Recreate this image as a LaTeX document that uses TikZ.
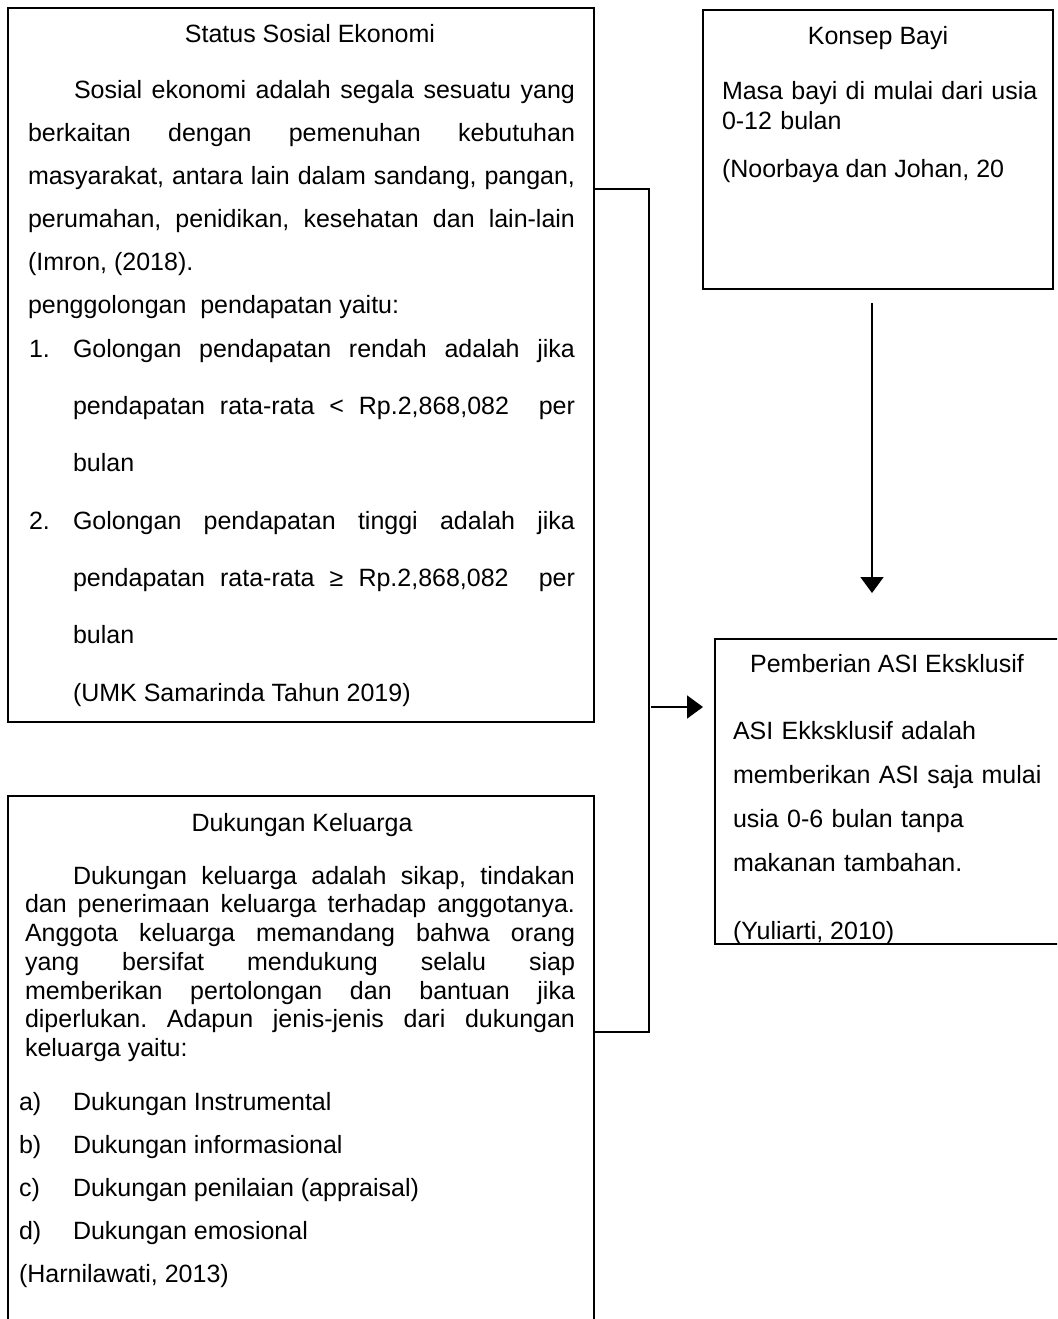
\documentclass[tikz,border=0pt]{standalone}
\usepackage{fontspec}
\setmainfont{Liberation Sans}
\usetikzlibrary{arrows.meta}
\newcommand\dgfont[1]{\fontsize{25}{#1}\selectfont\frenchspacing\hyphenpenalty10000 \exhyphenpenalty10000 \tolerance10000 \emergencystretch0pt }
\begin{document}
\begin{tikzpicture}[x=1pt,y=-1pt,
  box/.style={draw=black, line width=1.8pt, inner sep=0pt, outer sep=0pt, anchor=north west},
  tx/.style={inner sep=0pt, outer sep=0pt, anchor=base west, font=\dgfont{#1}},
  tx/.default=30,
  ttl/.style={inner sep=0pt, outer sep=0pt, anchor=base, font=\dgfont{30}},
  jp/.style 2 args={tx=#2, text width=#1, align=justify},
  lp/.style 2 args={tx=#2, text width=#1, align=left},
  link/.style={draw=black, line width=1.8pt},
  arr/.style={link, -{Triangle[length=16pt,width=23pt]}},
]
\useasboundingbox (0,0) rectangle (1057,1319);
\clip (0,0) rectangle (1057,1319);

% boxes
\node[box, minimum width=586pt, minimum height=714pt] (ses) at (8,8) {};
\node[box, minimum width=350pt, minimum height=279pt] (kb) at (703,10) {};
\node[box, minimum width=380pt, minimum height=305pt] (asi) at (715,639) {};
\node[box, minimum width=586pt, minimum height=580pt] (dk) at (8,796) {};

% Status Sosial Ekonomi
\node[ttl] (sesT) at (310,43) {Status Sosial Ekonomi};
\node[jp={547pt}{43}] (sesP) at (28,99) {\noindent\hspace*{46pt}Sosial ekonomi adalah segala sesuatu yang\linebreak
berkaitan dengan pemenuhan kebutuhan\linebreak
masyarakat, antara lain dalam sandang, pangan,\linebreak
perumahan, penidikan, kesehatan dan lain-lain\linebreak
(Imron, (2018).\par\noindent penggolongan\ \ pendapatan yaitu:};
\node[tx] (n1) at (29,357) {1.};
\node[jp={502pt}{57}] (g1) at (73,357) {\noindent Golongan pendapatan rendah adalah jika\linebreak
pendapatan rata-rata < Rp.2,868,082\ \ per\linebreak
bulan};
\node[tx] (n2) at (29,529) {2.};
\node[jp={502pt}{57}] (g2) at (73,529) {\noindent Golongan pendapatan tinggi adalah jika\linebreak
pendapatan rata-rata ≥ Rp.2,868,082\ \ per\linebreak
bulan};
\node[tx] (umk) at (73,701) {(UMK Samarinda Tahun 2019)};

% Konsep Bayi
\node[ttl] (kbT) at (878,45) {Konsep Bayi};
\node[lp={325pt}{29}] (kbP) at (722,100) {Masa bayi di mulai dari usia\\0-12 bulan};
\node[tx] (kbR) at (722,177) {(Noorbaya dan Johan, 20};

% Pemberian ASI Eksklusif
\node[ttl] (asiT) at (887,672) {Pemberian ASI Eksklusif};
\node[lp={320pt}{44}] (asiP) at (733,739) {ASI Ekksklusif adalah\\memberikan ASI saja mulai\\usia 0-6 bulan tanpa\\makanan tambahan.};
\node[tx] (asiR) at (733,939) {(Yuliarti, 2010)};

% Dukungan Keluarga
\node[ttl] (dkT) at (302,831) {Dukungan Keluarga};
\node[jp={550pt}{28.75}] (dkP) at (25,884) {\noindent\hspace*{48pt}Dukungan keluarga adalah sikap, tindakan\linebreak
dan penerimaan keluarga terhadap anggotanya.\linebreak
Anggota keluarga memandang bahwa orang\linebreak
yang bersifat mendukung selalu siap\linebreak
memberikan pertolongan dan bantuan jika\linebreak
diperlukan. Adapun jenis-jenis dari dukungan\linebreak
keluarga yaitu:};
\node[tx] (la) at (19,1110) {a)};
\node[tx] (ta) at (73,1110) {Dukungan Instrumental};
\node[tx] (lb) at (19,1153) {b)};
\node[tx] (tb) at (73,1153) {Dukungan informasional};
\node[tx] (lc) at (19,1196) {c)};
\node[tx] (tc) at (73,1196) {Dukungan penilaian (appraisal)};
\node[tx] (ld) at (19,1239) {d)};
\node[tx] (td) at (73,1239) {Dukungan emosional};
\node[tx] (dkR) at (19,1282) {(Harnilawati, 2013)};

% connectors
\coordinate (bt) at (649,189);
\coordinate (bb) at (649,1032);
\coordinate (am) at (651,707);
\coordinate (vx) at (872,0);
\draw[link] (ses.east |- bt) -- (bt) -- (bb) -- (dk.east |- bb);
\draw[arr, shorten >=12pt] (am) -- (am -| asi.west);
\draw[arr, shorten <=14pt, shorten >=46pt] (kb.south -| vx) -- (asi.north -| vx);
\end{tikzpicture}
\end{document}
